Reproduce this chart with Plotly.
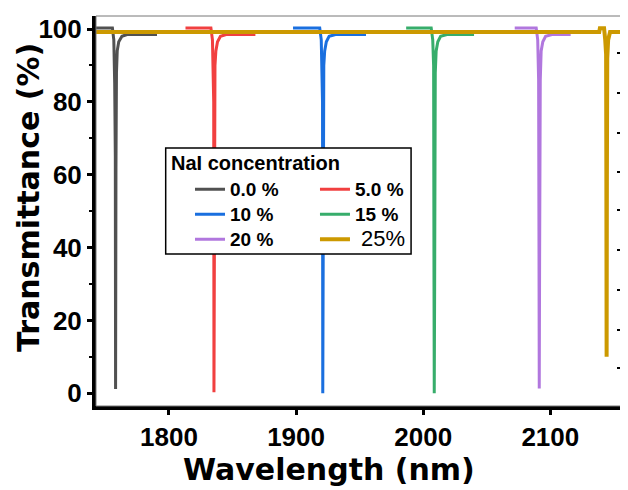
import plotly.graph_objects as go

# ---- data ----
gray_wl = [1741, 1755.5, 1756.6, 1757.3, 1757.8, 1758.0, 1758.3, 1758.7, 1759.3, 1760.5, 1763, 1767, 1790.6]
gray_T = [100.3, 100.3, 97, 85, 65, 1.2, 62, 88, 94, 96.5, 98, 98.5, 98.5]

red_wl = [1813, 1833, 1834.2, 1834.9, 1835.2, 1835.4, 1835.7, 1836.2, 1836.9, 1838.2, 1840.5, 1845, 1868]
red_T = [100.3, 100.3, 97, 88, 80, 0.3, 78, 90, 94, 96.5, 98, 98.5, 98.5]

blue_wl = [1897.6, 1918.6, 1919.8, 1920.5, 1920.8, 1921.0, 1921.3, 1921.8, 1922.5, 1923.8, 1926, 1931, 1955]
blue_T = [100.3, 100.3, 97, 88, 80, 0, 78, 90, 94, 96.5, 98, 98.5, 98.5]

green_wl = [1986.6, 2006.3, 2007.5, 2008.2, 2008.5, 2008.7, 2009.0, 2009.5, 2010.2, 2011.5, 2013.7, 2018.7, 2040]
green_T = [100.3, 100.3, 97, 90, 30, 0, 28, 88, 94, 96.5, 98, 98.5, 98.5]

purple_wl = [2072, 2088.9, 2090.1, 2090.8, 2091.1, 2091.3, 2091.6, 2092.1, 2092.8, 2094.1, 2096.3, 2101.3, 2116]
purple_T = [100.3, 100.3, 97, 86, 40, 1.3, 38, 86, 94, 96.5, 98, 98.5, 98.5]

yellow_wl = [1741, 2138.5, 2139, 2142.3, 2143.2, 2143.9, 2144.1, 2144.3, 2144.5, 2144.8, 2145.5, 2147, 2157]
yellow_T = [99.2, 99.2, 100.2, 100.2, 97, 93, 60, 10, 58, 92, 97, 99.2, 99.2]

series_names = ["0.0 %", "5.0 %", "10 %", "15 %", "20 %", "\u00a025%"]
series_colors = ["#515151", "#F14040", "#1A6FDF", "#37AD6B", "#B177DE", "#CC9900"]
series_legend = ["legend", "legend2", "legend", "legend2", "legend", "legend2"]
series_widths = [3, 3, 3, 3, 3, 4]
series_x = [gray_wl, red_wl, blue_wl, green_wl, purple_wl, yellow_wl]
series_y = [gray_T, red_T, blue_T, green_T, purple_T, yellow_T]

x_ticks = [1800, 1900, 2000, 2100]
y_ticks = [0, 20, 40, 60, 80, 100]
right_tick_vals = [93.5, 82.5, 71.5, 60.8, 50.4, 39.4, 28.4, 17.4, 7.0]
x_range = [1742.6, 2156.4]
y_range = [-3.49, 103.57]

FONT = "Arial, Liberation Sans, sans-serif"
TITLE_FONT = "DejaVu Sans, Arial, sans-serif"

fig = go.Figure()
for xs, ys, name, col, lg, w in zip(series_x, series_y, series_names, series_colors, series_legend, series_widths):
    if name.strip("\u00a0") == "25%":
        label = "<span style='font-weight:normal;font-size:22px'>" + name + "</span>"
    else:
        label = "<span style='font-size:19px'><b>" + name + "</b></span>"
    fig.add_trace(go.Scatter(x=xs, y=ys, mode="lines", name=label, legend=lg,
                             line=dict(color=col, width=w)))

# helper trace for the right-side tick axis
fig.add_trace(go.Scatter(x=[], y=[], yaxis="y2", showlegend=False, hoverinfo="skip"))

# The page body has an 8px margin, so the figure is 8px smaller and offset.
fig.update_layout(
    width=620, height=482,
    margin=dict(l=88, r=6, t=8, b=84, autoexpand=False),
    paper_bgcolor="white", plot_bgcolor="white",
    font=dict(family=FONT, color="black"),
    xaxis=dict(range=x_range, tickvals=x_ticks, ticks="outside", ticklen=5, tickwidth=3,
               tickcolor="black", showline=True, linewidth=4, linecolor="black",
               showgrid=False, zeroline=False,
               tickfont=dict(family=FONT, size=26, color="black", weight="bold")),
    yaxis=dict(range=y_range, tickvals=y_ticks, ticks="outside", ticklen=5, tickwidth=3,
               tickcolor="black", showline=True, linewidth=4, linecolor="black",
               showgrid=False, zeroline=False,
               minor=dict(ticks="outside", ticklen=3, tickwidth=2, tickcolor="black", dtick=10, tick0=0),
               tickfont=dict(family=FONT, size=26, color="black", weight="bold")),
    yaxis2=dict(range=y_range, overlaying="y", side="right", tickvals=right_tick_vals,
                ticks="inside", ticklen=5, tickwidth=1.5, tickcolor="black",
                showticklabels=False, showgrid=False, zeroline=False, showline=False),
    legend=dict(x=0.1787, y=0.601, xanchor="left", yanchor="top",
                bgcolor="rgba(0,0,0,0)", borderwidth=0,
                font=dict(family=FONT, size=17, color="black"),
                tracegroupgap=0, itemwidth=30),
    legend2=dict(x=0.4163, y=0.601, xanchor="left", yanchor="top",
                 bgcolor="rgba(0,0,0,0)", borderwidth=0,
                 font=dict(family=FONT, size=17, color="black"),
                 tracegroupgap=0, itemwidth=30),
    shapes=[
        dict(type="rect", xref="paper", yref="paper", x0=0, x1=1, y0=0, y1=1,
             line=dict(color="#777777", width=1), fillcolor="rgba(0,0,0,0)", layer="above"),
        dict(type="rect", xref="paper", yref="paper", x0=0.1325, x1=0.599, y0=0.390, y1=0.6615,
             line=dict(color="black", width=1.5), fillcolor="white", layer="above"),
    ],
    annotations=[
        dict(text="<b>NaI concentration</b>", xref="paper", yref="paper", x=0.1395, y=0.623,
             xanchor="left", yanchor="middle", showarrow=False,
             font=dict(family=FONT, size=20, color="black")),
        dict(text="<b>Wavelength (nm)</b>", xref="paper", yref="paper", x=0.443, y=-0.164,
             xanchor="center", yanchor="middle", showarrow=False,
             font=dict(family=TITLE_FONT, size=30, color="black")),
        dict(text="<b>Transmittance (%)</b>", xref="paper", yref="paper", x=-0.128, y=0.535,
             xanchor="center", yanchor="middle", showarrow=False, textangle=-90,
             font=dict(family=TITLE_FONT, size=30, color="black")),
    ],
)

fig.write_html("out.html")
